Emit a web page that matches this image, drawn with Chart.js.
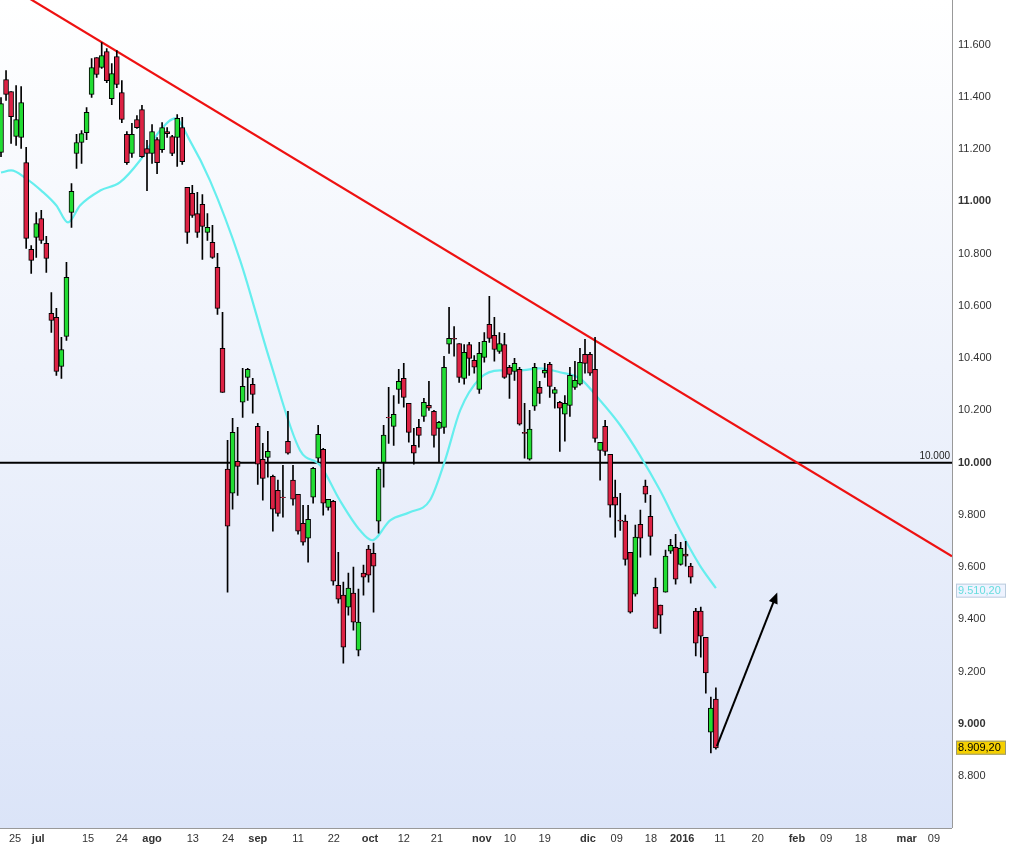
<!DOCTYPE html>
<html><head><meta charset="utf-8">
<script src="https://cdn.jsdelivr.net/npm/chart.js@4.4.1/dist/chart.umd.min.js"></script>
<style>html,body{margin:0;padding:0;background:#fff;overflow:hidden}#w{position:relative;width:1011px;height:846px}</style>
</head><body><div id="w"><canvas id="c" width="1011" height="846" style="width:1011px;height:846px"></canvas></div>
<script>
// OHLC per trading day (index 0..142)
const opens=[11187,11466,11420,11248,11244,11148,10816,10862,10934,10839,10571,10556,10368,10483,10957,11183,11225,11263,11409,11550,11512,11573,11393,11554,11416,11256,11183,11313,11351,11202,11183,11236,11198,11267,11248,11244,11282,11053,11030,10953,10988,10881,10843,10747,10437,9975,9883,10005,10231,10326,10300,10139,10013,10020,9948,9894,9868,10082,9933,9879,9768,9711,9868,10017,10051,9829,9852,9531,9493,9447,9501,9282,9577,9669,9653,9776,10001,10173,10139,10280,10323,10227,10066,10135,10177,10219,10196,10131,10135,10453,10476,10456,10322,10452,10391,10280,10403,10529,10487,10426,10452,10365,10349,10357,10116,10013,10216,10288,10342,10376,10265,10231,10185,10219,10288,10300,10414,10414,10357,10047,10139,10032,9868,9780,9776,9657,9497,9764,9910,9795,9523,9455,9504,9661,9676,9611,9650,9604,9432,9432,9332,8969,9095];
const highs=[11397,11500,11420,11443,11439,11206,10831,10957,10965,10866,10651,10590,10479,10766,11068,11256,11271,11359,11546,11550,11607,11584,11527,11577,11462,11267,11298,11328,11367,11233,11294,11244,11301,11282,11252,11332,11321,11053,11061,11034,11026,10953,10908,10801,10575,10085,10170,10135,10361,10361,10323,10150,10074,10120,9952,9933,9990,10196,9990,9879,9837,9837,9982,10143,10055,9860,9856,9657,9543,9577,9600,9516,9608,9684,9692,9982,10143,10288,10257,10357,10380,10227,10131,10166,10246,10311,10200,10158,10407,10594,10521,10456,10452,10460,10410,10460,10498,10636,10556,10498,10495,10372,10399,10365,10227,10200,10380,10311,10380,10384,10288,10235,10257,10365,10388,10437,10472,10422,10479,10078,10162,10032,9933,9883,9799,9657,9761,9818,9933,9875,9558,9455,9665,9707,9726,9695,9699,9615,9443,9447,9332,9103,9138];
const lows=[11171,11386,11221,11214,11202,10820,10724,10785,10839,10728,10498,10334,10322,10468,10900,11126,11145,11236,11397,11474,11508,11454,11370,11435,11301,11141,11168,11279,11168,11041,11145,11106,11187,11244,11175,11133,11141,10839,10938,10862,10778,10850,10781,10567,10269,9504,9822,9875,10173,10238,10189,9917,9856,9944,9738,9795,9791,10032,9837,9726,9684,9619,9845,10001,9799,9818,9531,9462,9233,9416,9359,9260,9493,9543,9428,9730,9906,10074,10066,10227,10212,10078,9994,10059,10158,10200,10059,10001,10112,10418,10407,10307,10300,10334,10342,10265,10384,10460,10388,10418,10322,10246,10315,10143,10017,10009,10200,10227,10326,10250,10208,10043,10082,10177,10280,10296,10342,10334,10078,9933,10028,9791,9715,9741,9608,9424,9489,9638,9848,9646,9366,9347,9504,9653,9535,9608,9604,9539,9260,9256,9118,8889,8904];
const closes=[11374,11409,11324,11313,11378,10858,10774,10915,10850,10781,10544,10349,10433,10709,11038,11225,11259,11340,11512,11485,11558,11462,11489,11447,11313,11148,11256,11282,11171,11183,11267,11148,11282,11259,11183,11317,11152,10881,10946,10881,10904,10900,10785,10590,10269,9757,10116,9986,10292,10357,10261,9994,9940,10043,9822,9806,9866,10036,9860,9738,9696,9783,9978,10108,9845,9860,9546,9478,9294,9520,9390,9390,9562,9569,9604,9975,10105,10171,10185,10311,10250,10116,10036,10104,10231,10208,10104,10154,10365,10476,10472,10326,10422,10399,10365,10418,10464,10475,10433,10456,10326,10338,10380,10147,10112,10128,10365,10265,10353,10292,10280,10208,10227,10334,10315,10384,10380,10342,10093,10078,10043,9837,9837,9776,9630,9428,9715,9711,9879,9718,9366,9416,9642,9684,9554,9672,9642,9562,9309,9336,9195,9061,8908];
// 20-day moving average, read at sample days
const maDays=[0,2,5,8,11,13.3,15.7,19.7,23.6,27.6,31.6,34.6,37.5,41.5,47.5,53.4,59.4,63.4,67.3,71.3,73.7,77.3,81.2,85.2,88.2,91.2,95.1,99.1,103,107,111,115,119,123,126.9,130.9,134.9,138.8,142];
const maVals=[11110,11118,11087,11041,10984,10919,10984,11041,11072,11156,11271,11317,11233,11080,10774,10391,10047,9990,9856,9741,9703,9779,9810,9856,10009,10200,10322,10353,10353,10361,10346,10322,10238,10143,10028,9894,9741,9607,9520];
// x-axis tick positions (trading-day index) and labels
const tickPos=[2.8,7.4,17.3,24.0,30.0,38.1,45.1,51.0,59.0,66.1,73.3,80.0,86.6,95.5,101.1,108.0,116.6,122.3,129.1,135.3,142.8,150.3,158.1,163.9,170.8,179.9,185.3];
const tickLbl=['25','jul','15','24','ago','13','24','sep','11','22','oct','12','21','nov','10','19','dic','09','18','2016','11','20','feb','09','18','mar','09'];
const yTicks=[8800,9000,9200,9400,9600,9800,10000,10200,10400,10600,10800,11000,11200,11400,11600];
const trendDays=[-0.2,188.9], trendVals=[11844,9642];
const arrowDays=[142.2,153.9], arrowVals=[8915,9489];
const level=10000, lastMA=9510.20, lastClose=8909.20;

const GREEN='#22dd33', RED='#dd2244';
const xMin=-0.2,xMax=188.9,yMin=8602,yMax=11722;
const fmt=v=>Math.round(v).toString().replace(/\B(?=(\d{3})+(?!\d))/g,'.');
const fmt2=v=>{const s=v.toFixed(2).split('.');return fmt(+s[0])+','+s[1];};

const idx=opens.map((_,i)=>i);
const ma=maDays.map((d,i)=>({x:d,y:maVals[i]}));

const bg={id:'bg',beforeDraw(ch){const {ctx,chartArea:a}=ch;const g=ctx.createLinearGradient(0,0,0,a.bottom);g.addColorStop(0,'#ffffff');g.addColorStop(1,'#dbe4f8');ctx.save();ctx.fillStyle=g;ctx.fillRect(a.left,0,a.right-a.left,a.bottom);ctx.restore();}};
const deco={id:'deco',afterDatasetsDraw(ch){const {ctx,chartArea:a,scales:{x,y}}=ch;ctx.save();
 ctx.strokeStyle='#999';ctx.lineWidth=1;ctx.beginPath();ctx.moveTo(a.right+0.5,0);ctx.lineTo(a.right+0.5,a.bottom);ctx.moveTo(a.left,a.bottom+0.5);ctx.lineTo(a.right,a.bottom+0.5);ctx.stroke();
 ctx.font='10px "Liberation Sans",Arial';ctx.fillStyle='#222';ctx.textAlign='right';ctx.textBaseline='bottom';ctx.fillText(fmt(level),a.right-2,y.getPixelForValue(level)-1);
 const x1=x.getPixelForValue(arrowDays[0]),y1=y.getPixelForValue(arrowVals[0]),x2=x.getPixelForValue(arrowDays[1]),y2=y.getPixelForValue(arrowVals[1]);
 const ang=Math.atan2(y2-y1,x2-x1),hx=x2+4*Math.cos(ang),hy=y2+4*Math.sin(ang);
 ctx.fillStyle='#000';ctx.beginPath();ctx.moveTo(hx,hy);ctx.lineTo(hx-12*Math.cos(ang-0.4),hy-12*Math.sin(ang-0.4));ctx.lineTo(hx-12*Math.cos(ang+0.4),hy-12*Math.sin(ang+0.4));ctx.closePath();ctx.fill();
 ctx.font='11px "Liberation Sans",Arial';ctx.textAlign='left';ctx.textBaseline='middle';
 let py=y.getPixelForValue(lastMA);ctx.fillStyle='#eef3ff';ctx.fillRect(a.right+4,py-7,50,14);ctx.strokeStyle='#bcd';ctx.strokeRect(a.right+4.5,py-6.5,49,13);ctx.fillStyle='#6dd';ctx.fillText(fmt2(lastMA),a.right+6,py);
 py=y.getPixelForValue(lastClose);ctx.fillStyle='#f5d000';ctx.fillRect(a.right+4,py-7,50,14);ctx.strokeStyle='#997';ctx.strokeRect(a.right+4.5,py-6.5,49,13);ctx.fillStyle='#000';ctx.fillText(fmt2(lastClose),a.right+6,py);
 ctx.restore();}};

new Chart(document.getElementById('c'),{
 type:'bar',
 data:{datasets:[
  {type:'line',data:[{x:xMin,y:level},{x:xMax,y:level}],borderColor:'#000',borderWidth:2,pointRadius:0,order:5},
  {type:'line',data:ma,borderColor:'#66eeee',borderWidth:2.2,pointRadius:0,cubicInterpolationMode:'monotone',order:4},
  {type:'line',data:trendDays.map((d,i)=>({x:d,y:trendVals[i]})),borderColor:'#ee1111',borderWidth:2.2,pointRadius:0,order:3,clip:{left:0,right:0,top:false,bottom:0}},
  {data:idx.map(i=>({x:i,y:[lows[i],highs[i]]})),backgroundColor:'#000',barThickness:1,grouped:false,order:2},
  {data:idx.map(i=>({x:i,y:[Math.min(opens[i],closes[i]),Math.max(opens[i],closes[i])+(opens[i]===closes[i]?3:0)]})),backgroundColor:idx.map(i=>closes[i]>=opens[i]?GREEN:RED),borderColor:'#000',borderWidth:1,borderSkipped:false,barThickness:5,grouped:false,order:1},
  {type:'line',data:arrowDays.map((d,i)=>({x:d,y:arrowVals[i]})),borderColor:'#000',borderWidth:2,pointRadius:0,order:0}
 ]},
 options:{responsive:false,animation:false,devicePixelRatio:1,
  layout:{padding:0},
  plugins:{legend:{display:false},tooltip:{enabled:false}},
  scales:{
   x:{type:'linear',min:xMin,max:xMax,offset:false,grid:{display:false,drawTicks:false},border:{display:false},
      afterBuildTicks:s=>{s.ticks=tickPos.map(v=>({value:v}));},
      afterFit:s=>{s.height=18;},
      ticks:{autoSkip:false,maxRotation:0,padding:4,color:'#333',callback:(v,i)=>tickLbl[i],
        font:c=>{const l=tickLbl[c.index]||'';return {family:'"Liberation Sans",Arial',size:11,weight:/^[a-z]|2016/.test(l)?'bold':'normal'};}}},
   y:{position:'right',min:yMin,max:yMax,grid:{display:false,drawTicks:false},border:{display:false},
      afterBuildTicks:s=>{s.ticks=yTicks.map(v=>({value:v}));},
      afterFit:s=>{s.width=59;},
      ticks:{padding:6,color:'#333',callback:v=>fmt(v),
        font:c=>({family:'"Liberation Sans",Arial',size:11,weight:(c.tick&&c.tick.value%1000===0)?'bold':'normal'})}}
  }},
 plugins:[bg,deco]
});
</script></body></html>
